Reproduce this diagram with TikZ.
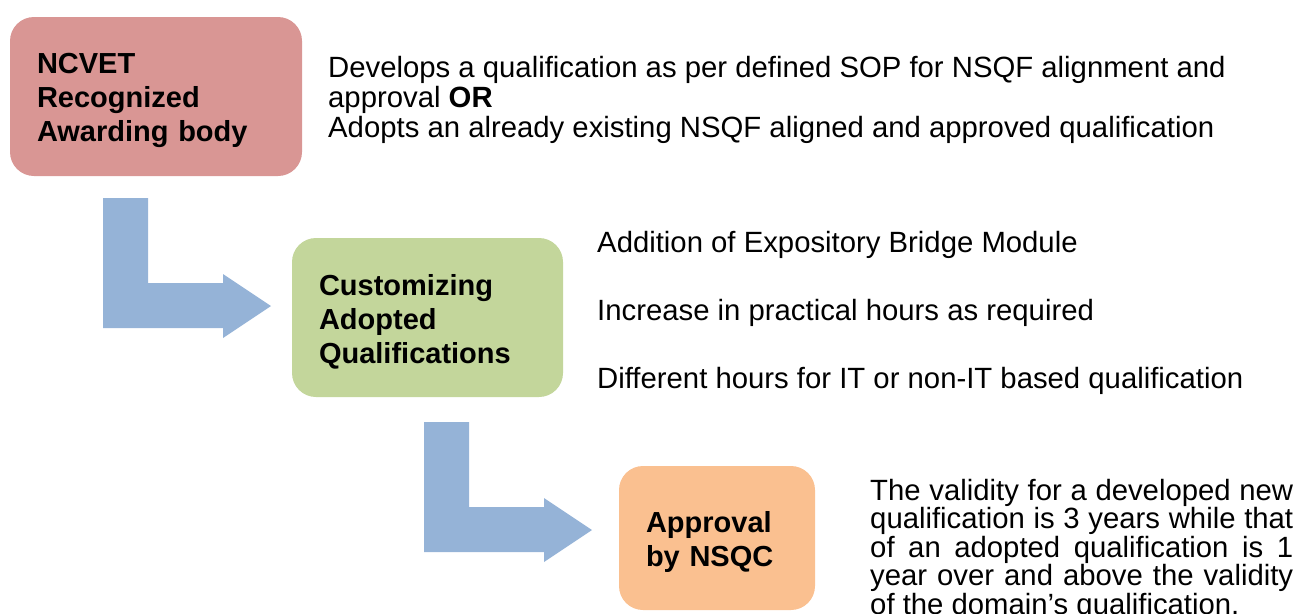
\documentclass[tikz,border=0pt]{standalone}
\usepackage{fontspec}
\setmainfont{Liberation Sans}
\definecolor{boxpink}{HTML}{D99694}
\definecolor{boxgreen}{HTML}{C3D69B}
\definecolor{boxpeach}{HTML}{FAC090}
\definecolor{arrowblue}{HTML}{95B3D7}

\begin{document}
\begin{tikzpicture}[x=1pt,y=-1pt,
        stage/.style={rounded corners=24pt,align=left,inner xsep=27pt,inner ysep=0pt,
          font=\fontsize{29}{34}\selectfont\bfseries,execute at begin node={\rule{0pt}{29pt}}},
        note/.style={inner sep=0pt,align=left,anchor=west,font=\fontsize{29.3}{30}\selectfont}]
        \useasboundingbox (0,0) rectangle (1297,613);
        % bent block arrows
        \foreach \ox/\oy in {103/198,424/422}
          \fill[arrowblue,shift={(\ox,\oy)}] (0,0) -- (45,0) -- (45,85) -- (120,85) -- (120,76)
            -- (168,108) -- (120,140) -- (120,130) -- (0,130) -- cycle;
        \node[stage,fill=boxpink,text width=238pt,minimum height=159pt] (ncvet) at (156,96.5)
          {NCVET\\Recognized\\Awarding body};
        \node[stage,fill=boxgreen,text width=217pt,minimum height=159pt] (custom) at (427.5,317.5)
          {Customizing\\Adopted\\Qualifications};
        \node[stage,fill=boxpeach,text width=142pt,minimum height=144pt] (nsqc) at (717,538)
          {Approval\\by NSQC};
        \node[note] (ncvettxt) at (328,100)
          {Develops a qualification as per defined SOP for NSQF alignment and\\
           approval \textbf{OR}\\Adopts an already existing NSQF aligned and approved qualification};
        \node[note,anchor=base west] (bridge) at (597,252) {Addition of Expository Bridge Module};
        \node[note,anchor=base west] (hours) at (597,320) {Increase in practical hours as required};
        \node[note,anchor=base west] (itbased) at (597,388) {Different hours for IT or non-IT based qualification};
        \node[note,anchor=north west,text width=423pt,align=justify,
          font=\fontsize{29.3}{28.5}\selectfont] (validity) at (870,479)
          {The validity for a developed new\linebreak qualification is 3 years while that\linebreak
           of an adopted qualification is 1\linebreak year over and above the validity\linebreak
           of the domain’s qualification.};
      \end{tikzpicture}
\end{document}
